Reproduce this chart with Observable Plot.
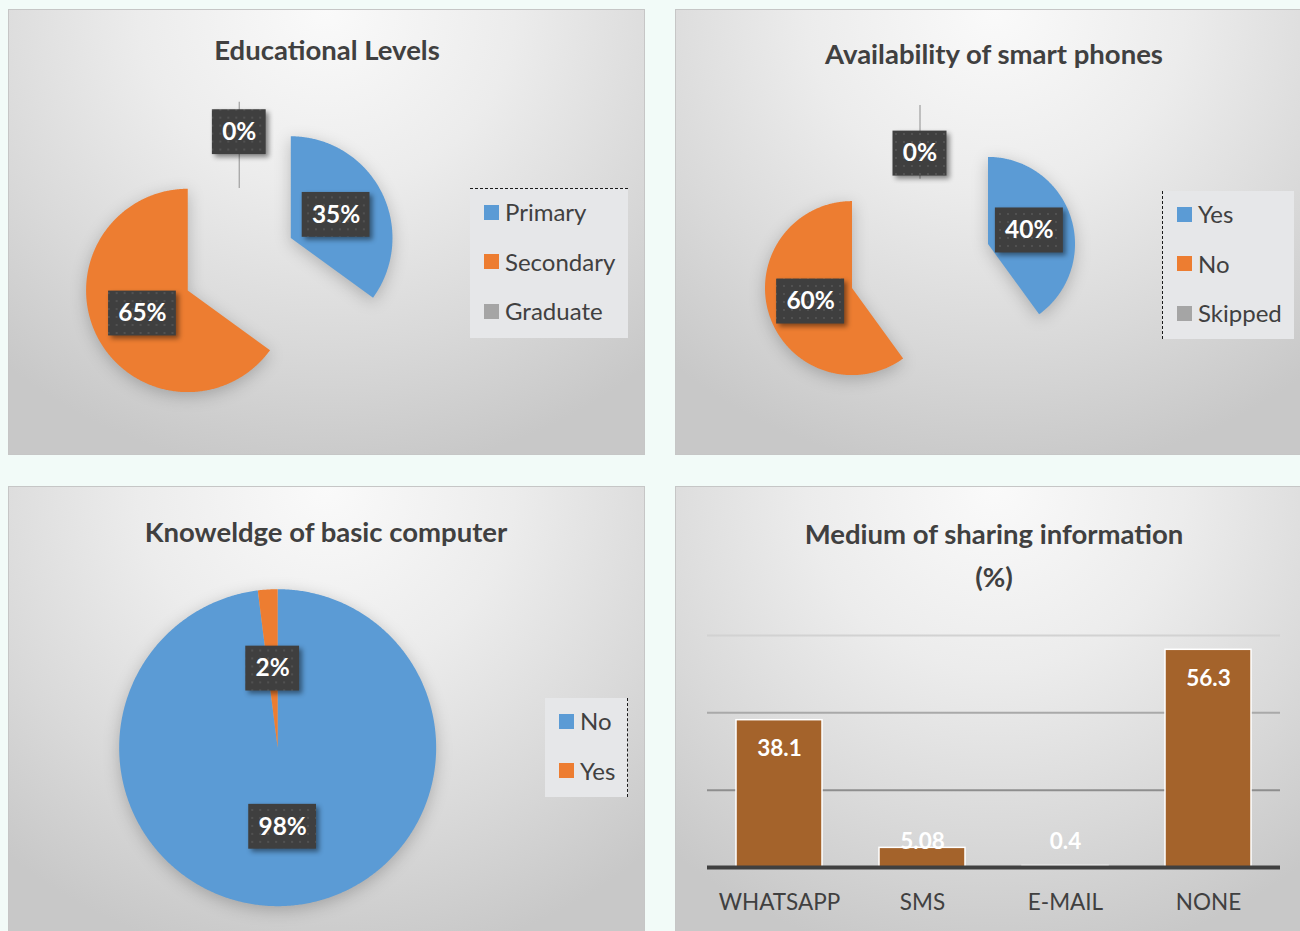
<!DOCTYPE html>
<html>
<head>
<meta charset="utf-8">
<script src="https://cdn.jsdelivr.net/npm/d3@7"></script>
<script src="https://cdn.jsdelivr.net/npm/@observablehq/plot@0.6"></script>
<style>
  html, body { margin: 0; padding: 0; }
  body { width: 1300px; height: 931px; overflow: hidden; background: #f2fbf8; position: relative; font-family: Lato, "Open Sans", sans-serif; }
  .panel { position: absolute; box-sizing: border-box; overflow: hidden;
    border: 1px solid #c6c6c6;
    background: radial-gradient(ellipse 78% 105% at 50% 0%, #fafafa 0%, #ececec 38%, #d9d9d9 72%, #c8c8c8 100%); }
  .panel svg { position: absolute; left: 0; top: 0; }
  .title { position: absolute; transform: translate(-50%, -50%); white-space: nowrap; font-weight: 700; font-size: 27.5px; color: #404040; }
  .legend { position: absolute; background: #e6e7e9; box-sizing: border-box; }
  .li { position: absolute; left: 14px; transform: translateY(-50%); display: flex; align-items: center; white-space: nowrap; }
  .sw { display: inline-block; width: 15px; height: 15px; margin-right: 6px; }
  .lt { font-size: 24px; color: #404040; line-height: 1; }
</style>
</head>
<body>
<svg width="0" height="0" style="position:absolute">
  <defs>
    <pattern id="dots" width="8" height="8" patternUnits="userSpaceOnUse">
      <rect width="8" height="8" fill="#3f3f3f"></rect>
      <circle cx="4" cy="4" r="0.9" fill="#5a5a5a"></circle>
    </pattern>
  </defs>
</svg>
<script>
// ---------------- DATA ----------------
const eduCategories = ["Primary", "Secondary", "Graduate"];
const eduValues = [35, 65, 0];

const phoneCategories = ["Yes", "No", "Skipped"];
const phoneValues = [40, 60, 0];

const compCategories = ["No", "Yes"];
const compValues = [98, 2];

const mediumCategories = ["WHATSAPP", "SMS", "E-MAIL", "NONE"];
const mediumValues = [38.1, 5.08, 0.4, 56.3];
const mediumTicks = [20, 40, 60];

// ---------------- STYLES ----------------
const pieColors = ["#5b9bd5", "#ed7d31", "#a5a5a5"];
const gridStrokes = ["#8e8e8e", "#a9a9a9", "#d2d2d2"];
const barColor = "#a4632b";

function makePanel(left, top, w, h) {
  const p = document.createElement("div");
  p.className = "panel";
  Object.assign(p.style, {left: left + "px", top: top + "px", width: w + "px", height: h + "px"});
  document.body.appendChild(p);
  return p;
}
function addTitle(panel, text, x, y) {
  const t = document.createElement("div");
  t.className = "title";
  t.textContent = text;
  t.style.left = x + "px"; t.style.top = y + "px";
  panel.appendChild(t);
}
function addLegend(panel, cats, colors, box, side) {
  const lg = document.createElement("div");
  lg.className = "legend";
  Object.assign(lg.style, {left: box.left + "px", top: box.top + "px", width: box.w + "px", height: box.h + "px"});
  lg.style["border" + side] = "1px dashed #1a1a1a";
  cats.forEach((c, i) => {
    const it = document.createElement("div");
    it.className = "li";
    it.style.top = (23 + i * 49.5) + "px";
    const sw = document.createElement("span"); sw.className = "sw"; sw.style.background = colors[i];
    const lt = document.createElement("span"); lt.className = "lt"; lt.textContent = c;
    it.appendChild(sw); it.appendChild(lt);
    lg.appendChild(it);
  });
  panel.appendChild(lg);
}

function pieChart({cats, vals, W, H, cx, cy, r, d, zeroFrac}) {
  const total = d3.sum(vals);
  const slices = [];
  let a = 0;
  cats.forEach((c, i) => {
    const a0 = a, a1 = a + vals[i] / total * 2 * Math.PI;
    a = a1;
    const mid = (a0 + a1) / 2, k = d / r;
    slices.push({key: c, value: vals[i], a0, a1, mid, ox: k * Math.sin(mid), oy: k * Math.cos(mid)});
  });
  const pts = [];
  slices.filter(s => s.value > 0).forEach(s => {
    pts.push({key: s.key, x: s.ox, y: s.oy});
    const n = Math.max(2, Math.ceil((s.a1 - s.a0) / (Math.PI / 360)));
    for (let j = 0; j <= n; j++) {
      const t = s.a0 + (s.a1 - s.a0) * j / n;
      pts.push({key: s.key, x: s.ox + Math.sin(t), y: s.oy + Math.cos(t)});
    }
    pts.push({key: s.key, x: s.ox, y: s.oy});
  });
  const zeros = slices.filter(s => s.value === 0).map(s => ({
    key: s.key,
    x1: s.ox + 0.18 * Math.sin(s.mid), y1: s.oy + 0.18 * Math.cos(s.mid),
    x2: s.ox + 1.03 * Math.sin(s.mid), y2: s.oy + 1.03 * Math.cos(s.mid)
  }));
  const labels = slices.map(s => {
    const f = s.value === 0 ? zeroFrac : 0.5;
    const text = Math.round(s.value / total * 100) + "%";
    return {text, lx: s.ox + f * Math.sin(s.mid), ly: s.oy + f * Math.cos(s.mid),
            hw: (text.length * 14 + 26) / 2 / r, hh: 22.5 / r};
  });
  const svg = Plot.plot({
    width: W, height: H, margin: 0,
    style: {background: "transparent", fontFamily: "Lato, sans-serif", overflow: "visible"},
    x: {domain: [-cx / r, (W - cx) / r], axis: null},
    y: {domain: [-(H - cy) / r, cy / r], axis: null},
    color: {domain: cats, range: pieColors},
    marks: [
      Plot.line(pts, {x: "x", y: "y", z: "key", fill: "key", stroke: "none", curve: "linear"}),
      Plot.link(zeros, {x1: "x1", y1: "y1", x2: "x2", y2: "y2", stroke: "key", strokeWidth: 1.3}),
      Plot.rect(labels, {x1: l => l.lx - l.hw, x2: l => l.lx + l.hw, y1: l => l.ly - l.hh, y2: l => l.ly + l.hh, fill: "url(#dots)"}),
      Plot.text(labels, {x: "lx", y: "ly", text: "text", fill: "white", fontSize: 24.5, fontWeight: "bold"})
    ]
  });
  const lineG = svg.querySelector('g[aria-label="line"]');
  if (lineG) lineG.style.filter = "drop-shadow(0px 4px 8px rgba(0,0,0,0.22))";
  const rectG = svg.querySelector('g[aria-label="rect"]');
  if (rectG) rectG.style.filter = "drop-shadow(3px 3px 2.5px rgba(0,0,0,0.45))";
  return svg;
}

// ---------- Panel 1: Educational Levels ----------
const p1 = makePanel(8, 9, 637, 446);
p1.appendChild(pieChart({cats: eduCategories, vals: eduValues, W: 637, H: 446, cx: 230.5, cy: 254.5, r: 102, d: 58, zeroFrac: 0.73}));
addTitle(p1, "Educational Levels", 318, 39);
addLegend(p1, eduCategories, pieColors, {left: 461, top: 178, w: 158, h: 150}, "Top");

// ---------- Panel 2: Availability of smart phones ----------
const p2 = makePanel(675, 9, 640, 446);
p2.appendChild(pieChart({cats: phoneCategories, vals: phoneValues, W: 625, H: 446, cx: 243.5, cy: 255.5, r: 87, d: 71.5, zeroFrac: 0.47}));
addTitle(p2, "Availability of smart phones", 318, 43);
addLegend(p2, phoneCategories, pieColors, {left: 486, top: 181, w: 132, h: 148}, "Left");

// ---------- Panel 3: Knoweldge of basic computer ----------
const p3 = makePanel(8, 486, 637, 460);
p3.appendChild(pieChart({cats: compCategories, vals: compValues, W: 637, H: 445, cx: 269, cy: 261, r: 159, d: 0, zeroFrac: 0.5}));
addTitle(p3, "Knoweldge of basic computer", 317, 44);
addLegend(p3, compCategories, pieColors, {left: 536, top: 211, w: 83, h: 99}, "Right");

// ---------- Panel 4: Medium of sharing information ----------
const p4 = makePanel(675, 486, 640, 460);
const mediumData = mediumCategories.map((c, i) => ({cat: c, value: mediumValues[i]}));
const gridData = mediumTicks.map((t, i) => ({t, stroke: gridStrokes[i]}));
const bar = Plot.plot({
  width: 625, height: 445,
  marginLeft: 31, marginRight: 21, marginTop: 148, marginBottom: 65,
  style: {background: "transparent", fontFamily: "Lato, sans-serif", overflow: "visible"},
  x: {domain: mediumCategories, paddingInner: 0.4, paddingOuter: 0.2, label: null},
  y: {domain: [0, 60], axis: null},
  color: {type: "identity"},
  marks: [
    Plot.ruleY(gridData, {y: "t", stroke: "stroke", strokeWidth: 2}),
    Plot.barY(mediumData, {x: "cat", y: "value", fill: barColor, stroke: "white", strokeWidth: 1.5}),
    Plot.ruleY([0], {stroke: "#404040", strokeWidth: 4}),
    Plot.text(mediumData, {x: "cat", y: d => Math.max(d.value, 14.2), dy: 29, text: d => String(d.value), fill: "white", fontSize: 22.5, fontWeight: "bold"}),
    Plot.axisX({tickSize: 0, tickPadding: 27, fontSize: 22.5, color: "#404040", label: null})
  ]
});
p4.appendChild(bar);
addTitle(p4, "Medium of sharing information", 318, 46);
addTitle(p4, "(%)", 318, 89);
</script>
</body>
</html>
